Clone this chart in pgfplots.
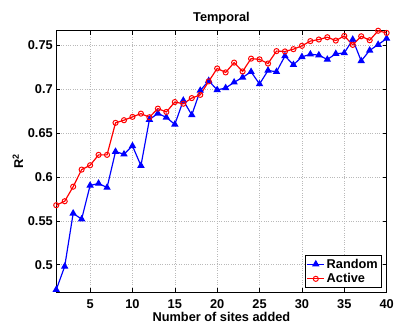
\documentclass[border=0pt]{standalone}
\usepackage{pgfplots}
\pgfplotsset{compat=1.18}
\usepackage{fontspec}
\setmainfont{Liberation Sans}
\usetikzlibrary{calc}
\begin{document}
\begin{tikzpicture}
\begin{axis}[
  scale only axis,
  width=335bp, height=265bp,
  xmin=1, xmax=40, ymin=0.469, ymax=0.767,
  xtick={5,10,...,40},
  ytick={0.5,0.55,...,0.75},
  yticklabels={0.5,0.55,0.6,0.65,0.7,0.75},
  tick align=inside,
  tick pos=both,
  major tick length=4bp,
  grid=major,
  major grid style={dotted, gray!55, line width=0.6pt},
  axis line style={line width=0.8pt},
  tick style={line width=0.6pt, black},
  font=\bfseries\fontsize{13}{14}\selectfont,
  ticklabel style={font=\bfseries\fontsize{13}{14}\selectfont},
  xticklabel style={yshift=-4bp},
  /pgf/number format/assume math mode=true,
  title={Temporal},
  title style={yshift=-3bp},
  xlabel={Number of sites added},
  ylabel={R$^{\mathbf{2}}$},
  xlabel style={yshift=3bp},
  ylabel style={yshift=-2bp},
  legend style={at={(0.985,0.015)}, anchor=south east, draw=black, line width=0.8pt, font=\bfseries\fontsize{13}{14}\selectfont, inner sep=1.5pt, row sep=0pt},
  legend cell align=left,
]
\addplot[blue, line width=1.2pt, mark=triangle*, mark size=3.2pt, mark options={solid}] coordinates {
(1,0.4715)(2,0.498)(3,0.5586)(4,0.552)(5,0.5904)(6,0.5927)(7,0.588)(8,0.629)(9,0.626)(10,0.6355)
(11,0.613)(12,0.6655)(13,0.6726)(14,0.668)(15,0.660)(16,0.6873)(17,0.6708)(18,0.6986)(19,0.7098)(20,0.6993)
(21,0.7016)(22,0.708)(23,0.7136)(24,0.720)(25,0.706)(26,0.7215)(27,0.720)(28,0.738)(29,0.728)(30,0.737)
(31,0.740)(32,0.739)(33,0.734)(34,0.7406)(35,0.7414)(36,0.7568)(37,0.7324)(38,0.7444)(39,0.751)(40,0.7579)
};
\addlegendentry{Random}
\addplot[red, line width=1.2pt, mark=o, mark size=2.6pt, mark options={solid, line width=1pt}] coordinates {
(1,0.5679)(2,0.5724)(3,0.589)(4,0.6085)(5,0.6134)(6,0.6253)(7,0.6253)(8,0.6618)(9,0.6648)(10,0.6686)
(11,0.6723)(12,0.6682)(13,0.678)(14,0.6742)(15,0.6855)(16,0.6836)(17,0.690)(18,0.6937)(19,0.7091)(20,0.7238)
(21,0.7193)(22,0.7305)(23,0.7204)(24,0.735)(25,0.7342)(26,0.7294)(27,0.7436)(28,0.7432)(29,0.7458)(30,0.7496)
(31,0.755)(32,0.7568)(33,0.7594)(34,0.7556)(35,0.7609)(36,0.7507)(37,0.7605)(38,0.756)(39,0.7668)(40,0.7643)
};
\addlegendentry{Active}
\end{axis}
\path[use as bounding box] ($(current axis.south west)+(-57bp,-33bp)$) rectangle ($(current axis.north east)+(5bp,31bp)$);
\end{tikzpicture}
\end{document}
